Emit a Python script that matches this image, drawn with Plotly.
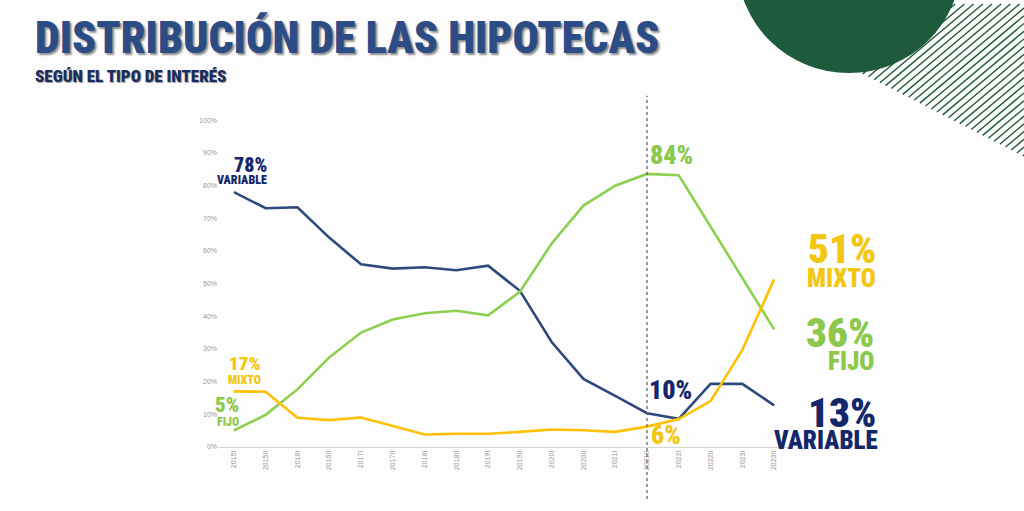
import plotly.graph_objects as go

W, H = 1024, 511

periods = ["2015I", "2015II", "2016I", "2016II", "2017I", "2017II", "2018I", "2018II",
           "2019I", "2019II", "2020I", "2020II", "2021I", "2021II", "2022I", "2022II",
           "2023I", "2023II"]
variable = [78, 73.1, 73.4, 64.1, 55.9, 54.6, 55.0, 54.1, 55.5, 47.8, 32.1, 20.8, 15.6,
            10.3, 8.6, 19.3, 19.3, 12.7]
fijo = [5, 9.8, 17.6, 27.4, 35.0, 39.0, 40.9, 41.7, 40.3, 47.5, 62.3, 73.9, 80.0, 83.6,
        83.2, 67.5, 51.5, 36.0]
mixto = [17, 16.9, 8.9, 8.2, 9.0, 6.3, 3.8, 4.0, 4.0, 4.6, 5.3, 5.1, 4.6, 6.2, 8.5, 14.0,
         29.7, 51.3]
y_ticks = [0, 10, 20, 30, 40, 50, 60, 70, 80, 90, 100]
y_tick_text = [f"{v}%" for v in y_ticks]
marker_period = "2021II"

NAVY_LINE = "#2e4a7d"
NAVY_TXT = "#13286a"
GREEN = "#8dcf4f"
GREEN_TXT = "#8cc84b"
YELLOW = "#ffc000"
YELLOW_TXT = "#f3c60f"
DKGREEN = "#1e5b3a"
COND = "Roboto Condensed, Liberation Sans Narrow, Arial Narrow, Roboto, sans-serif"


def px(x):
    return x / W


def py(y):
    return 1 - y / H


fig = go.Figure()
for name, vals, col in [("Variable", variable, NAVY_LINE), ("Fijo", fijo, GREEN),
                        ("Mixto", mixto, YELLOW)]:
    fig.add_trace(go.Scatter(x=periods, y=vals, mode="lines", name=name,
                             line=dict(color=col, width=2.6), hoverinfo="skip"))

shapes = []
# hatch lines (decoration)
paths = []
c = 900.0
while c <= 1215:
    xb = (c + 443.9) / 1.611
    yb = 72 + 0.52 * (xb - 865)
    if c <= W:
        xe, ye = c, 0.0
    else:
        xe, ye = W, (c - W) / 1.175
    if xb > W:
        xb, yb = W, (c - W) / 1.175
    paths.append(f"M{px(xb):.4f},{py(yb):.4f} L{px(xe):.4f},{py(ye):.4f}")
    c += 9.2
shapes.append(dict(type="path", xref="paper", yref="paper", path=" ".join(paths),
                   line=dict(color=DKGREEN, width=1.4), layer="below"))
# circle
cx, cy, r = 849, -42, 112
shapes.append(dict(type="circle", xref="paper", yref="paper",
                   x0=px(cx - r), x1=px(cx + r), y0=py(cy + r), y1=py(cy - r),
                   fillcolor=DKGREEN, line=dict(width=0), layer="below"))
# dashed marker line
shapes.append(dict(type="line", xref="x", yref="paper", x0=marker_period, x1=marker_period,
                   y0=py(502), y1=py(93), line=dict(color="#666666", width=1.3, dash="dot")))

ann = []


def label(text, x, y, size, color, xanchor="right", yanchor="bottom"):
    ann.append(dict(text=text, x=px(x), y=py(y), xref="paper", yref="paper",
                    xanchor=xanchor, yanchor=yanchor, showarrow=False, borderpad=0,
                    font=dict(family=COND, size=size, color=color, weight=900)))


label("78%", 268, 176, 20, NAVY_TXT)
label("VARIABLE", 268, 187, 12, NAVY_TXT)
label("17%", 262, 377, 19, YELLOW_TXT)
label("MIXTO", 262, 389, 12, YELLOW_TXT)
label("5%", 240, 420, 21, GREEN_TXT)
label("FIJO", 240, 432, 12, GREEN_TXT)
label("84%", 649, 169, 26, GREEN_TXT, xanchor="left")
label("10%", 648, 408, 26, NAVY_TXT, xanchor="left")
label("6%", 650, 453, 26, YELLOW_TXT, xanchor="left")
label("51%", 877, 274, 41, YELLOW_TXT)
label("MIXTO", 877, 294, 25, YELLOW_TXT)
label("36%", 875, 359, 41, GREEN_TXT)
label("FIJO", 875, 378, 25, GREEN_TXT)
label("13%", 877, 440, 41, NAVY_TXT)
label("VARIABLE", 879, 458, 25, NAVY_TXT)

ann.append(dict(text="DISTRIBUCIÓN DE LAS HIPOTECAS", x=px(33), y=py(6), xref="paper",
                yref="paper", xanchor="left", yanchor="top", showarrow=False,
                font=dict(family=COND, size=44, color="#2c4c86", weight=900,
                          shadow="2px 2px 2px rgba(0,0,0,0.45)")))
ann.append(dict(text="SEGÚN EL TIPO DE INTERÉS", x=px(33), y=py(61), xref="paper",
                yref="paper", xanchor="left", yanchor="top", showarrow=False,
                font=dict(family=COND, size=17, color="#1b2d60", weight=900,
                          shadow="1px 1px 1px rgba(0,0,0,0.4)")))

fig.update_layout(
    width=W, height=H,
    margin=dict(l=0, r=0, t=0, b=0),
    paper_bgcolor="#fefdfe", plot_bgcolor="rgba(0,0,0,0)",
    showlegend=False,
    shapes=shapes, annotations=ann,
    xaxis=dict(type="category", domain=[px(218), px(790)], range=[-0.5, 17.5],
               tickangle=-90, tickfont=dict(family="Arial, Liberation Sans", size=7,
                                            color="#9a9a9a"),
               showgrid=False, showline=True, linecolor="#d6d6d6", linewidth=1,
               ticks="", zeroline=False, fixedrange=True),
    yaxis=dict(domain=[py(449), py(118)], range=[0, 100], tickmode="array",
               tickvals=y_ticks, ticktext=y_tick_text,
               tickfont=dict(family="Arial, Liberation Sans", size=7, color="#9a9a9a"),
               showgrid=False, zeroline=False, showline=False, ticks="", fixedrange=True),
)

fig.write_html("out.html", config={"displayModeBar": False},
               post_script="document.body.style.margin='0';document.body.style.overflow='hidden';")
